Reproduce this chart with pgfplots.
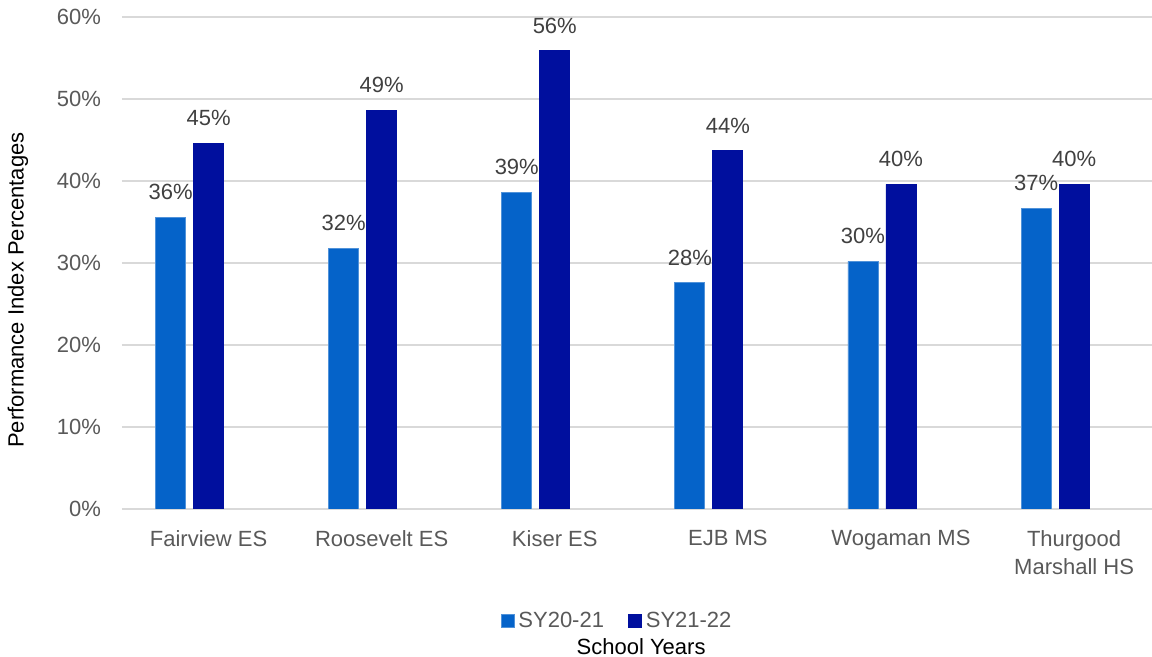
\documentclass[border=0pt]{standalone}
\usepackage{pgfplots}
\pgfplotsset{compat=1.18}
\usepackage{fontspec}
\setmainfont{Liberation Sans}
\definecolor{c1}{HTML}{0563C9}
\definecolor{c2}{HTML}{000F9E}
\definecolor{tickgray}{HTML}{595959}
\definecolor{labgray}{HTML}{404040}
\definecolor{gridgray}{HTML}{D9D9D9}
\begin{document}
\begin{tikzpicture}
\useasboundingbox (-61pt,-74pt) rectangle (515pt,254.5pt);
\begin{axis}[
  at={(0,0)}, anchor=south west,
  scale only axis, width=515pt, height=246pt,
  xmin=-0.5, xmax=5.45, ymin=0, ymax=60,
  clip mode=individual,
  ybar, bar width=15pt,
  axis line style={draw=none},
  major tick length=0pt,
  ymajorgrids, grid style={gridgray, line width=1pt},
  ytick={0,10,...,60},
  yticklabel={\pgfmathprintnumber{\tick}\%},
  xtick={0,...,5},
  xticklabels={Fairview ES, Roosevelt ES, Kiser ES, EJB MS, Wogaman MS, {Thurgood\\Marshall HS}},
  tick label style={font=\fontsize{11}{14}\selectfont, text=tickgray},
  xticklabel style={align=center, yshift=-7pt},
  yticklabel style={xshift=-7pt},
  /pgf/number format/assume math mode=true,
  nodes near coords={\pgfmathprintnumber[fixed,precision=0]{\pgfplotspointmeta}\%},
  every node near coord/.append style={font=\fontsize{11}{13}\selectfont, text=labgray, inner sep=0pt, yshift=8.5pt},
  legend style={at={(0.4816,-0.2276)}, anchor=center, draw=none, fill=none,
    legend columns=2, font=\fontsize{11}{13}\selectfont, text=tickgray,
    /tikz/every even column/.append style={column sep=10pt},
    nodes={inner sep=2pt}},
  legend image code/.code={\fill[#1] (0pt,-3.25pt) rectangle (6.5pt,3.25pt);},
]
\addplot[fill=c1, draw=c1!70!white, line width=0.4pt, bar shift=-19pt] coordinates {
  (0,35.6) (1,31.8) (2,38.6) (3,27.6) (4,30.2) (5,36.7)};
\addlegendentry{SY20-21}
\addplot[fill=c2, draw=c2, line width=0.4pt, bar shift=0pt] coordinates {
  (0,44.6) (1,48.6) (2,55.9) (3,43.7) (4,39.6) (5,39.6)};
\addlegendentry{SY21-22}
\node[font=\fontsize{11}{13}\selectfont, text=black] at (rel axis cs:0.504,-0.2805) {School Years};
\node[font=\fontsize{11}{13}\selectfont, text=black, rotate=90] at (rel axis cs:-0.101,0.445) {Performance Index Percentages};
\end{axis}
\end{tikzpicture}
\end{document}
